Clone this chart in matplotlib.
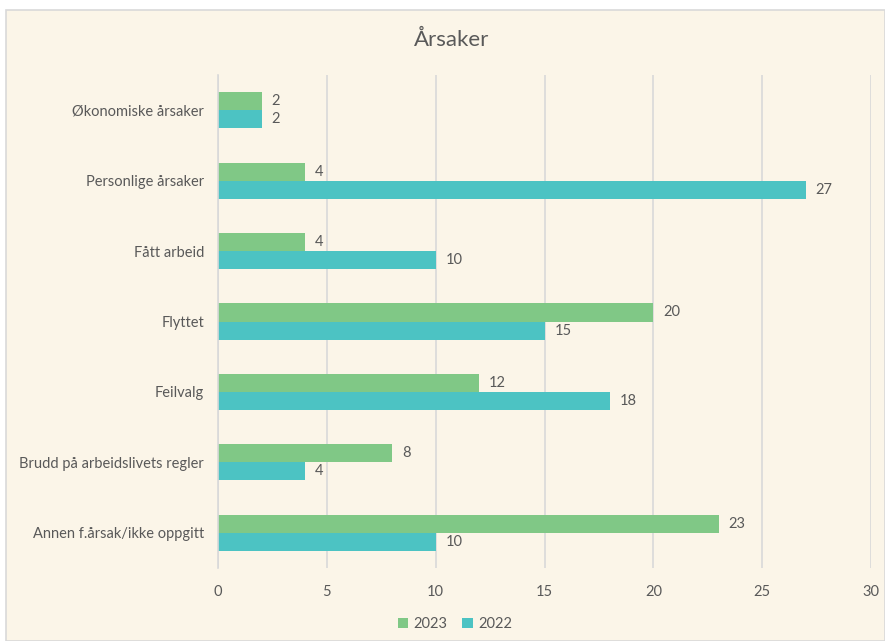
import matplotlib.pyplot as plt
from matplotlib.patches import Rectangle
import numpy as np

categories = ["Økonomiske årsaker", "Personlige årsaker", "Fått arbeid", "Flyttet",
              "Feilvalg", "Brudd på arbeidslivets regler", "Annen f.årsak/ikke oppgitt"]
values_2023 = [2, 4, 4, 20, 12, 8, 23]
values_2022 = [2, 27, 10, 15, 18, 4, 10]
series_labels = ["2023", "2022"]

bg = "#FBF5E8"
green = "#80C886"
teal = "#4CC3C3"
text_col = "#595959"
grid_col = "#D9D9D9"

plt.rcParams['font.family'] = ['Lato', 'DejaVu Sans']

fig = plt.figure(figsize=(8.85, 6.41), dpi=100)
fig.patch.set_facecolor("white")
W, H = 885, 641
fig.patches.append(Rectangle((6 / W, 0), 1 - 6 / W, 1 - 10 / H, transform=fig.transFigure,
                             facecolor=bg, edgecolor="#D9D9D9", linewidth=1.2, zorder=-10))

ax = fig.add_axes([218 / W, 1 - 568 / H, (871 - 218) / W, (568 - 75) / H])
ax.set_facecolor("none")
ax.set_zorder(1)

n = len(categories)
y = np.arange(n)
h = 0.256
ax.barh(y - h / 2, values_2023, height=h, color=green, label=series_labels[0], zorder=2)
ax.barh(y + h / 2, values_2022, height=h, color=teal, label=series_labels[1], zorder=2)

for yi, v in zip(y, values_2023):
    ax.text(v + 0.45, yi - h / 2, str(v), va="center", ha="left", fontsize=10.5, color=text_col)
for yi, v in zip(y, values_2022):
    ax.text(v + 0.45, yi + h / 2, str(v), va="center", ha="left", fontsize=10.5, color=text_col)

ax.set_xlim(0, 30)
ax.set_ylim(n - 0.5, -0.5)
ax.set_xticks(range(0, 31, 5))
ax.set_yticks(y)
ax.set_yticklabels(categories)
ax.tick_params(axis="both", length=0, labelsize=10.5, colors=text_col)
ax.tick_params(axis="x", pad=12)
ax.tick_params(axis="y", pad=10)
ax.grid(axis="x", color=grid_col, linewidth=1.2, zorder=0)
for s in ["top", "right", "bottom"]:
    ax.spines[s].set_visible(False)
ax.spines["left"].set_color(grid_col)
ax.spines["left"].set_linewidth(1.2)

fig.text(452 / W, 1 - 40 / H, "Årsaker", ha="center", va="center", fontsize=16, color=text_col)

fig.legend(loc="center", bbox_to_anchor=(455 / W, 1 - 624 / H), ncol=2, frameon=False,
           fontsize=10.5, labelcolor=text_col, handlelength=0.7, handleheight=0.7,
           handletextpad=0.4, columnspacing=1.0)

fig.savefig("out.png", dpi=100, facecolor=fig.get_facecolor())
